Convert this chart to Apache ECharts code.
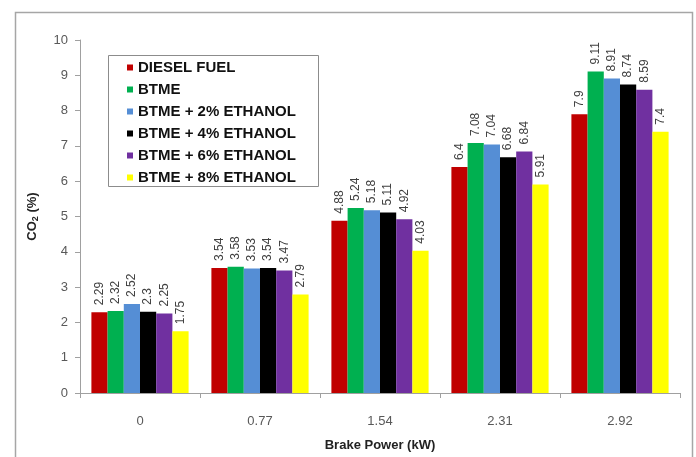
<!DOCTYPE html>
<html>
<head>
<meta charset="utf-8">
<script src="https://cdn.jsdelivr.net/npm/echarts@6/dist/echarts.min.js"></script>
<style>
  html, body { margin: 0; padding: 0; background: #fff; }
  #chart { width: 696px; height: 457px; }
</style>
</head>
<body>
<div id="chart"></div>
<script>
// Brake power levels (kW)
const categories = ['0', '0.77', '1.54', '2.31', '2.92'];

// CO2 emission (%) for each fuel blend
const seriesNames = [
  'DIESEL FUEL',
  'BTME',
  'BTME + 2% ETHANOL',
  'BTME + 4% ETHANOL',
  'BTME + 6% ETHANOL',
  'BTME + 8% ETHANOL'
];
const dieselFuel = [2.29, 3.54, 4.88, 6.4, 7.9];
const btme       = [2.32, 3.58, 5.24, 7.08, 9.11];
const btme2      = [2.52, 3.53, 5.18, 7.04, 8.91];
const btme4      = [2.3, 3.54, 5.11, 6.68, 8.74];
const btme6      = [2.25, 3.47, 4.92, 6.84, 8.59];
const btme8      = [1.75, 2.79, 4.03, 5.91, 7.4];

const yTicks = [0, 1, 2, 3, 4, 5, 6, 7, 8, 9, 10];

const colors = ['#C00000', '#00B050', '#558ED5', '#000000', '#7030A0', '#FFFF00'];
const allValues = [dieselFuel, btme, btme2, btme4, btme6, btme8];

const chart = echarts.init(document.getElementById('chart'));

const series = seriesNames.map((name, i) => ({
  name: name,
  type: 'bar',
  data: allValues[i],
  barGap: '0%',
  barCategoryGap: '19%',
  itemStyle: { color: colors[i] },
  label: {
    show: true,
    position: 'top',
    rotate: 90,
    align: 'left',
    verticalAlign: 'middle',
    distance: 7,
    fontSize: 12,
    fontFamily: 'Liberation Sans',
    color: '#404040'
  }
}));

chart.setOption({
  animation: false,
  backgroundColor: '#ffffff',
  color: colors,
  grid: { left: 80, right: 16, top: 40, bottom: 64 },
  graphic: [
    {
      type: 'rect',
      left: 13, top: 10,
      shape: { width: 677, height: 470 },
      style: { fill: 'none', stroke: '#a6a6a6', lineWidth: 1.5 },
      z: -1
    },
    {
      type: 'rect',
      left: 108, top: 55,
      shape: { width: 210, height: 131 },
      style: { fill: '#ffffff', stroke: '#8c8c8c', lineWidth: 1 },
      z: 5
    }
  ],
  legend: {
    orient: 'vertical',
    left: 122,
    top: 55,
    z: 10,
    itemWidth: 6,
    itemHeight: 6,
    itemGap: 7,
    icon: 'rect',
    textStyle: {
      fontFamily: 'Liberation Sans',
      fontWeight: 'bold',
      fontSize: 15,
      color: '#111'
    },
    data: seriesNames
  },
  xAxis: {
    type: 'category',
    data: categories,
    name: 'Brake Power (kW)',
    nameLocation: 'middle',
    nameGap: 46,
    nameTextStyle: {
      fontFamily: 'Liberation Sans',
      fontWeight: 'bold',
      fontSize: 13,
      color: '#222'
    },
    axisLine: { lineStyle: { color: '#a0a0a0' } },
    axisTick: { show: true, alignWithLabel: false, length: 5, lineStyle: { color: '#a0a0a0' } },
    axisLabel: {
      margin: 22,
      fontFamily: 'Liberation Sans',
      fontSize: 13,
      color: '#595959'
    }
  },
  yAxis: {
    type: 'value',
    min: yTicks[0],
    max: yTicks[yTicks.length - 1],
    interval: 1,
    name: 'CO{sub|2} (%)',
    nameLocation: 'middle',
    nameRotate: 90,
    nameGap: 40,
    nameTextStyle: {
      fontFamily: 'Liberation Sans',
      fontWeight: 'bold',
      fontSize: 13,
      color: '#222',
      rich: {
        sub: {
          fontFamily: 'Liberation Sans',
          fontWeight: 'bold',
          fontSize: 9,
          color: '#222',
          verticalAlign: 'bottom',
          padding: [6, 0, 0, 0]
        }
      }
    },
    splitLine: { show: false },
    axisLine: { show: true, lineStyle: { color: '#a0a0a0' } },
    axisTick: { show: true, length: 5, lineStyle: { color: '#a0a0a0' } },
    axisLabel: {
      margin: 12,
      fontFamily: 'Liberation Sans',
      fontSize: 13,
      color: '#595959'
    }
  },
  series: series
});
</script>
</body>
</html>
